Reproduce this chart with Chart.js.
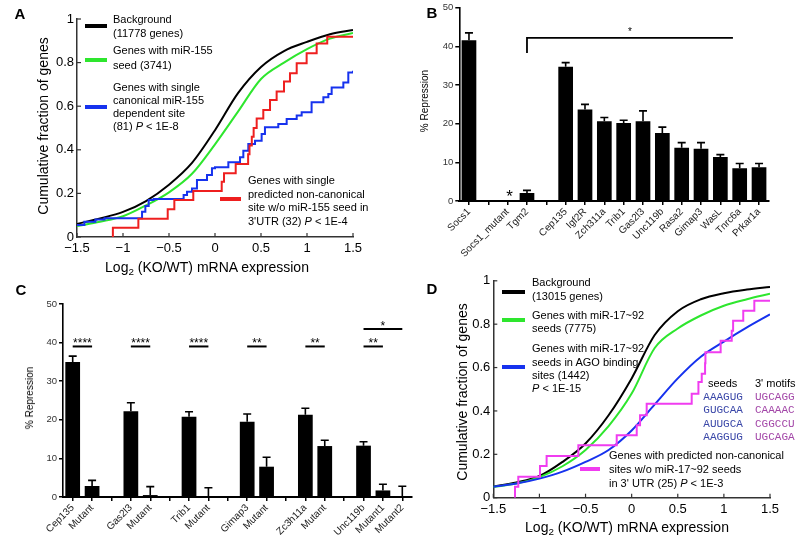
<!DOCTYPE html>
<html><head><meta charset="utf-8">
<script src="https://cdn.jsdelivr.net/npm/chart.js@4.4.1/dist/chart.umd.min.js"></script>
<style>
html,body{margin:0;padding:0;background:#fff;}
body{width:800px;height:545px;position:relative;overflow:hidden;font-family:"Liberation Sans",Arial,sans-serif;}
.box{position:absolute;}
canvas{display:block;}
.t{position:absolute;white-space:nowrap;color:#000;line-height:1;transform:translate(0,-50%);}
.c{transform:translate(-50%,-50%);}
.r{transform:translate(-50%,-50%) rotate(-90deg);}
.sw{position:absolute;height:4px;transform:translate(0,-50%);}
sub{font-size:70%;vertical-align:-0.3em;line-height:0;}
</style>
</head><body>
<div class="box" style="left:0;top:0;width:400px;height:270px"><canvas id="ca" width="400" height="270"></canvas></div>
<div class="box" style="left:400px;top:0;width:400px;height:270px"><canvas id="cb" width="400" height="270"></canvas></div>
<div class="box" style="left:0;top:270px;width:420px;height:275px"><canvas id="cc" width="420" height="275"></canvas></div>
<div class="box" style="left:420px;top:270px;width:380px;height:275px"><canvas id="cd" width="380" height="275"></canvas></div>
<div id="ov"></div>
<script>
// ---------------- DATA ----------------
// Panel A (cumulative fractions)
const aGridX = [-1.5,-1.25,-1,-0.75,-0.5,-0.25,0,0.25,0.5,0.75,1,1.25,1.5];
const aBackground = [0.06,0.085,0.115,0.165,0.24,0.34,0.49,0.66,0.78,0.853,0.895,0.93,0.95];
const aSeed = [0.05,0.07,0.095,0.145,0.205,0.29,0.425,0.575,0.725,0.80,0.862,0.91,0.936];
const aCanonX = [-1.5,-1.42,-1.3,-1.2,-0.793,-0.757,-0.721,-0.667,-0.341,-0.304,-0.25,-0.196,-0.087,-0.033,0.0,0.145,0.272,0.308,0.362,0.435,0.507,0.543,0.688,0.779,0.888,0.942,1.05,1.178,1.232,1.268,1.395,1.449,1.5];
const aCanonY = [0.055,0.07,0.08,0.086,0.116,0.142,0.170,0.174,0.193,0.208,0.223,0.261,0.284,0.315,0.32,0.343,0.366,0.396,0.427,0.442,0.472,0.503,0.518,0.541,0.557,0.572,0.618,0.641,0.656,0.686,0.709,0.755,0.763];
const aNonCanonX = [-1.11,-1.11,-0.833,-0.514,-0.442,-0.236,0.073,0.098,0.225,0.36,0.375,0.40,0.42,0.453,0.525,0.598,0.670,0.75,0.815,0.888,0.996,1.105,1.22,1.5];
const aNonCanonY = [0,0.043,0.084,0.127,0.17,0.211,0.254,0.292,0.335,0.38,0.42,0.46,0.50,0.544,0.583,0.628,0.667,0.713,0.751,0.797,0.843,0.888,0.919,0.919];

// Panel B
const bCategories = ['Socs1','','Socs1_mutant','Tgm2','','Cep135','Igf2R','Zch311a','Trib1','Gas2l3','Unc119b','Rasa2','Gimap3','WasL','Tnrc6a','Prkar1a'];
const bValues   = [41.6,null,0,2.1,null,34.7,23.7,20.6,20.2,20.6,17.6,13.8,13.5,11.4,8.5,8.7];
const bErrorTop = [43.5,null,null,2.75,null,35.8,25.0,21.6,20.9,23.3,19.1,15.1,15.1,12.0,9.7,9.7];

// Panel C
const cCategories = ['Cep135','Mutant','','Gas2l3','Mutant','','Trib1','Mutant','','Gimap3','Mutant','','Zc3h11a','Mutant','','Unc119b','Mutant1','Mutant2'];
const cValues   = [35.0,2.85,null,22.2,0.5,null,20.8,0,null,19.5,7.85,null,21.3,13.2,null,13.3,1.7,0];
const cErrorTop = [36.5,4.3,null,24.4,2.7,null,22.1,2.4,null,21.5,10.3,null,23.0,14.7,null,14.3,3.3,2.8];
const cSigFrom  = [0,3,6,9,12,15,15];
const cSigTo    = [1,4,7,10,13,16,17];
const cSigLabel = ['****','****','****','**','**','**','*'];

// Panel D
const dGridX = [-1.5,-1.25,-1,-0.75,-0.5,-0.25,0,0.25,0.5,0.75,1,1.25,1.5];
const dBackground = [0.051,0.07,0.10,0.165,0.25,0.38,0.55,0.75,0.86,0.915,0.943,0.96,0.972];
const dSeeds = [0.05,0.065,0.095,0.145,0.22,0.33,0.48,0.69,0.78,0.84,0.885,0.915,0.94];
const dAgo = [0.05,0.065,0.088,0.12,0.165,0.22,0.31,0.43,0.55,0.65,0.72,0.785,0.845];
const dNonCanonX = [-1.265,-1.265,-1.229,-0.994,-0.922,-0.578,-0.162,0.055,0.091,0.163,0.651,0.724,0.76,0.796,0.80,0.965,1.085,1.10,1.21,1.33,1.5];
const dNonCanonY = [0,0.051,0.097,0.146,0.192,0.242,0.288,0.334,0.38,0.433,0.479,0.533,0.571,0.62,0.671,0.724,0.77,0.816,0.862,0.908,0.908];

const seedList = ['AAAGUG','GUGCAA','AUUGCA','AAGGUG'];
const motifList = ['UGCAGG','CAAAAC','CGGCCU','UGCAGA'];

// ---------------- HELPERS ----------------
const FONT = '"Liberation Sans", Arial, sans-serif';
const COL = {black:'#000000', green:'#2ee62e', blue:'#1632ee', red:'#ee1f1f', magenta:'#f03cf0'};
const pts = (xs, ys) => xs.map((x,i)=>({x, y: ys[i]}));
const fmt = v => String(Math.round(v*10)/10).replace('-','\u2212');

const inwardTicks = {
  id:'inwardTicks',
  afterDraw(chart){
    const {ctx, chartArea:a, scales:{x,y}} = chart;
    ctx.save(); ctx.strokeStyle='#333'; ctx.lineWidth=1.2;
    x.ticks.forEach(t=>{const p=x.getPixelForValue(t.value); ctx.beginPath(); ctx.moveTo(p,a.bottom); ctx.lineTo(p,a.bottom-4); ctx.stroke();});
    y.ticks.forEach(t=>{const p=y.getPixelForValue(t.value); ctx.beginPath(); ctx.moveTo(a.left,p); ctx.lineTo(a.left+4,p); ctx.stroke();});
    ctx.restore();
  }
};

function cdfChart(id, datasets, pad, yW, xH){
  return new Chart(document.getElementById(id), {
    type:'line',
    data:{datasets},
    options:{
      responsive:false, animation:false, devicePixelRatio:1,
      layout:{padding:pad},
      plugins:{legend:{display:false}, tooltip:{enabled:false}},
      elements:{point:{radius:0}},
      scales:{
        x:{type:'linear', min:-1.5, max:1.5,
           afterFit(s){s.height=xH;},
           grid:{display:true, drawOnChartArea:false, drawTicks:false},
           border:{color:'#333', width:1.5},
           ticks:{stepSize:0.5, padding:4, color:'#000', font:{family:FONT,size:13}, callback:fmt}},
        y:{type:'linear', min:0, max:1,
           afterFit(s){s.width=yW;},
           grid:{display:true, drawOnChartArea:false, drawTicks:false},
           border:{color:'#333', width:1.5},
           ticks:{stepSize:0.2, padding:3, color:'#000', font:{family:FONT,size:13}, callback:fmt}}
      }
    },
    plugins:[inwardTicks]
  });
}
const smooth = (data,color)=>({data, borderColor:color, borderWidth:2, cubicInterpolationMode:'monotone', pointRadius:0, fill:false});
const steps  = (data,color)=>({data, borderColor:color, borderWidth:2, stepped:true, pointRadius:0, fill:false});

// Panel A
cdfChart('ca', [
  steps(pts(aNonCanonX,aNonCanonY), COL.red),
  steps(pts(aCanonX,aCanonY), COL.blue),
  smooth(pts(aGridX,aSeed), COL.green),
  smooth(pts(aGridX,aBackground), COL.black)
], {left:0, top:19, right:47, bottom:0}, 77, 33);

// Panel D
cdfChart('cd', [
  steps(pts(dNonCanonX,dNonCanonY), COL.magenta),
  smooth(pts(dGridX,dAgo), COL.blue),
  smooth(pts(dGridX,dSeeds), COL.green),
  smooth(pts(dGridX,dBackground), COL.black)
], {left:0, top:10, right:30, bottom:0}, 73.3, 47.3);

// Bar charts
function errPlugin(tops){
  return {
    id:'errbars',
    afterDatasetsDraw(chart){
      const {ctx, scales:{y}} = chart;
      const meta = chart.getDatasetMeta(0);
      const vals = chart.data.datasets[0].data;
      ctx.save(); ctx.strokeStyle='#000'; ctx.lineWidth=1.6;
      tops.forEach((t,i)=>{
        if(t==null) return;
        const x = meta.data[i].x;
        const y0 = y.getPixelForValue(vals[i]==null?0:vals[i]);
        const y1 = y.getPixelForValue(t);
        ctx.beginPath(); ctx.moveTo(x,y0); ctx.lineTo(x,y1);
        ctx.moveTo(x-4,y1); ctx.lineTo(x+4,y1); ctx.stroke();
      });
      ctx.restore();
    }
  };
}
function barChart(id, labels, values, tops, pad, yW, xH, extra){
  return new Chart(document.getElementById(id), {
    type:'bar',
    data:{labels, datasets:[{data:values, backgroundColor:'#000', borderWidth:0, barPercentage:0.76, categoryPercentage:1}]},
    options:{
      responsive:false, animation:false, devicePixelRatio:1,
      layout:{padding:pad},
      plugins:{legend:{display:false}, tooltip:{enabled:false}},
      scales:{
        x:{afterFit(s){s.height=xH;},
           grid:{display:true, offset:false, drawOnChartArea:false, drawTicks:true, tickLength:4, color:'#000', lineWidth:1.5},
           border:{color:'#000', width:2},
           ticks:{autoSkip:false, maxRotation:45, minRotation:45, padding:1, color:'#222', font:{family:FONT,size:10}}},
        y:{min:0, max:50, afterFit(s){s.width=yW;},
           grid:{display:true, drawOnChartArea:false, drawTicks:true, tickLength:4, color:'#000', lineWidth:1.5},
           border:{color:'#000', width:1.6},
           ticks:{stepSize:10, padding:2, color:'#333', font:{family:FONT,size:9.5}}}
      }
    },
    plugins:[errPlugin(tops), extra]
  });
}

// Panel B annotations
const bAnnot = {
  id:'bAnnot',
  afterDatasetsDraw(chart){
    const {ctx, scales:{x,y}} = chart;
    ctx.save(); ctx.strokeStyle='#000'; ctx.lineWidth=1.8; ctx.fillStyle='#000';
    const xl = x.getPixelForValue(3), xr = x.getPixelForValue(13.65);
    const yt = y.getPixelForValue(42.2), yb = y.getPixelForValue(38.3);
    ctx.beginPath(); ctx.moveTo(xl,yb); ctx.lineTo(xl,yt); ctx.lineTo(xr,yt); ctx.stroke();
    ctx.textAlign='center'; ctx.textBaseline='alphabetic';
    ctx.font='10px '+FONT; ctx.fillText('*', x.getPixelForValue(8.33), yt-3);
    ctx.font='17px '+FONT; ctx.fillText('*', x.getPixelForValue(2.1), y.getPixelForValue(-0.3));
    ctx.restore();
  }
};
barChart('cb', bCategories, bValues, bErrorTop, {left:0, top:7.3, right:31.3, bottom:0}, 59.3, 69, bAnnot);

// Panel C annotations
const cAnnot = {
  id:'cAnnot',
  afterDatasetsDraw(chart){
    const {ctx, scales:{x,y}} = chart;
    ctx.save(); ctx.strokeStyle='#000'; ctx.lineWidth=2; ctx.fillStyle='#000';
    ctx.textAlign='center'; ctx.textBaseline='alphabetic'; ctx.font='12px '+FONT;
    cSigFrom.forEach((f,i)=>{
      const level = (cSigTo[i]-f>1) ? 43.5 : 39.0;
      const x0=x.getPixelForValue(f), x1=x.getPixelForValue(cSigTo[i]), yy=y.getPixelForValue(level);
      ctx.beginPath(); ctx.moveTo(x0,yy); ctx.lineTo(x1,yy); ctx.stroke();
      ctx.fillText(cSigLabel[i], (x0+x1)/2, yy+1);
    });
    ctx.restore();
  }
};
barChart('cc', cCategories, cValues, cErrorTop, {left:0, top:34, right:8, bottom:0}, 63, 48, cAnnot);

// ---------------- TEXT OVERLAYS ----------------
const ov = document.getElementById('ov');
function T(x,y,html,size,cls,extra){
  const d=document.createElement('div'); d.className='t '+(cls||''); d.innerHTML=html;
  d.style.left=x+'px'; d.style.top=y+'px'; d.style.fontSize=size+'px';
  if(extra) Object.assign(d.style, extra);
  ov.appendChild(d);
}
function SW(x,y,w,color){
  const d=document.createElement('div'); d.className='sw';
  d.style.left=x+'px'; d.style.top=y+'px'; d.style.width=w+'px'; d.style.background=color; ov.appendChild(d);
}
const LF=11;
// panel letters
T(20,13,'A',15,'c',{fontWeight:'bold'});
T(432,12,'B',15,'c',{fontWeight:'bold'});
T(21,289,'C',15,'c',{fontWeight:'bold'});
T(432,288,'D',15,'c',{fontWeight:'bold'});
// A titles
T(43,126,'Cumulative fraction of genes',14,'r');
T(207,267,'Log<sub>2</sub> (KO/WT) mRNA expression',14,'c');
// A legend
SW(85,25.7,22,COL.black); T(113,19,'Background',LF); T(113,32.7,'(11778 genes)',LF);
SW(85,60,22,COL.green); T(113,50,'Genes with miR-155',LF); T(113,64.5,'seed (3741)',LF);
SW(85,107,22,COL.blue);
T(113,86.5,'Genes with single',LF); T(113,100,'canonical miR-155',LF); T(113,113.3,'dependent site',LF); T(113,126,'(81) <i>P</i> &lt; 1E-8',LF);
SW(220,199.3,21,COL.red);
T(248,180,'Genes with single',LF); T(248,193.5,'predicted non-canonical',LF); T(248,207,'site w/o miR-155 seed in',LF); T(248,220.5,"3'UTR (32) <i>P</i> &lt; 1E-4",LF);
// B/C titles
T(425,101,'% Repression',10,'r');
T(30,398,'% Repression',10,'r');
// D titles
T(462,392,'Cumulative fraction of genes',14,'r');
T(627,527,'Log<sub>2</sub> (KO/WT) mRNA expression',14,'c');
// D legend
SW(502,291.7,23,COL.black); T(532,281.7,'Background',LF); T(532,296,'(13015 genes)',LF);
SW(502,320,23,COL.green); T(532,315,'Genes with miR-17~92',LF); T(532,328.3,'seeds (7775)',LF);
SW(502,366.7,23,COL.blue);
T(532,348.3,'Genes with miR-17~92',LF); T(532,361.7,'seeds in AGO binding',LF); T(532,375,'sites (1442)',LF); T(532,388.3,'<i>P</i> &lt; 1E-15',LF);
SW(580,469.3,20,COL.magenta);
T(609,455,'Genes with predicted non-canonical',LF); T(609,469.3,'sites w/o miR-17~92 seeds',LF); T(609,483.3,"in 3' UTR (25) <i>P</i> &lt; 1E-3",LF);
T(708,383.3,'seeds',LF); T(755,383.3,"3' motifs",LF);
const rowY=[396.7,410.3,424,437.3];
seedList.forEach((s,i)=>T(703.3,rowY[i],s,11,'',{fontFamily:'"Liberation Mono",monospace',color:'#3a47a8'}));
motifList.forEach((s,i)=>T(755,rowY[i],s,11,'',{fontFamily:'"Liberation Mono",monospace',color:'#a347a8'}));
</script>
</body></html>
